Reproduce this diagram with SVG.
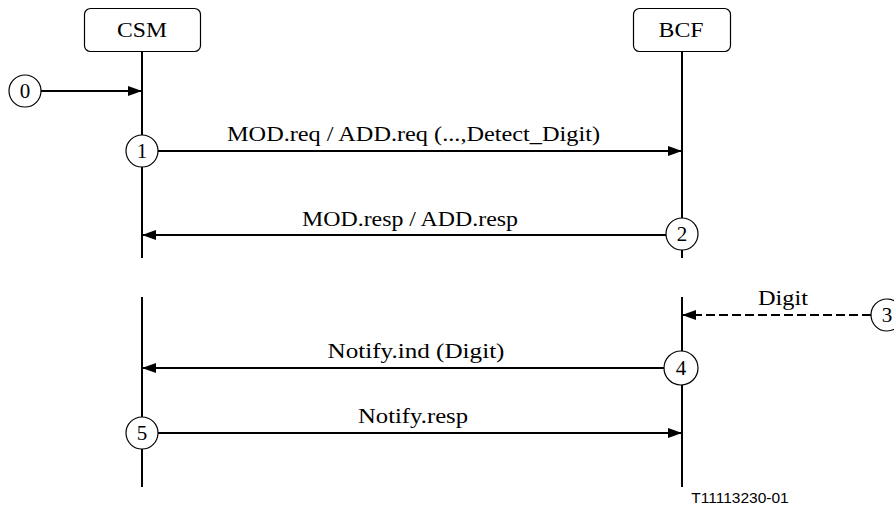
<svg xmlns="http://www.w3.org/2000/svg" width="894" height="507" viewBox="0 0 894 507">
<defs>
<style>
.box{fill:#fff;stroke:#000;stroke-width:1.2}
.life{stroke:#000;stroke-width:2;fill:none}
.msg{stroke:#000;stroke-width:2;fill:none}
.dash{stroke-dasharray:9,4}
.circ{fill:#fff;stroke:#000;stroke-width:1.2}
.t{font-family:'Liberation Serif','Times New Roman',serif;font-size:21px;fill:#000;text-anchor:middle}
.s{font-family:'Liberation Sans',Arial,sans-serif;font-size:15.5px;fill:#000;text-anchor:middle}
</style>
<marker id="ah" viewBox="0 0 14 10" refX="14" refY="5" markerWidth="14" markerHeight="10" markerUnits="userSpaceOnUse" orient="auto">
<path d="M0,0 L14,5 L0,10 Z" fill="#000"/>
</marker>
</defs>
<g id="lifelines">
<line class="life" x1="142" y1="51" x2="142" y2="258"/>
<line class="life" x1="142" y1="297" x2="142" y2="487"/>
<line class="life" x1="682" y1="51" x2="682" y2="258"/>
<line class="life" x1="682" y1="297" x2="682" y2="487"/>
</g>
<g id="connectors">
<line class="msg" x1="41" y1="91" x2="142" y2="91" marker-end="url(#ah)"/>
<line class="msg" x1="158" y1="151" x2="682" y2="151" marker-end="url(#ah)"/>
<line class="msg" x1="666" y1="235" x2="142" y2="235" marker-end="url(#ah)"/>
<line class="msg dash" x1="871" y1="315" x2="682" y2="315" marker-end="url(#ah)"/>
<line class="msg" x1="665" y1="368" x2="142" y2="368" marker-end="url(#ah)"/>
<line class="msg" x1="158" y1="433" x2="682" y2="433" marker-end="url(#ah)"/>
</g>
<g id="CSM">
<rect class="box" x="84.5" y="8.5" width="116" height="43" rx="6"/>
<text class="t" x="142" y="37" textLength="50" lengthAdjust="spacingAndGlyphs">CSM</text>
</g>
<g id="BCF">
<rect class="box" x="633.5" y="8.5" width="97" height="43" rx="6"/>
<text class="t" x="681" y="37" textLength="45" lengthAdjust="spacingAndGlyphs">BCF</text>
</g>
<g id="s0"><circle class="circ" cx="25" cy="91" r="16"/><text class="t" x="25" y="98">0</text></g>
<g id="s1"><circle class="circ" cx="142" cy="151" r="16"/><text class="t" x="142" y="158">1</text></g>
<g id="s2"><circle class="circ" cx="682" cy="234" r="16"/><text class="t" x="682" y="241">2</text></g>
<g id="s3"><circle class="circ" cx="887" cy="315" r="16"/><text class="t" x="887" y="322">3</text></g>
<g id="s4"><circle class="circ" cx="681" cy="368" r="17"/><text class="t" x="681" y="375">4</text></g>
<g id="s5"><circle class="circ" cx="142" cy="433" r="16"/><text class="t" x="142" y="440">5</text></g>
<g id="labels">
<text class="t" x="413.5" y="141" textLength="373" lengthAdjust="spacingAndGlyphs">MOD.req / ADD.req (...,Detect_Digit)</text>
<text class="t" x="410" y="226" textLength="216" lengthAdjust="spacingAndGlyphs">MOD.resp / ADD.resp</text>
<text class="t" x="783" y="305" textLength="50" lengthAdjust="spacingAndGlyphs">Digit</text>
<text class="t" x="416" y="358" textLength="177" lengthAdjust="spacingAndGlyphs">Notify.ind (Digit)</text>
<text class="t" x="413" y="423" textLength="110" lengthAdjust="spacingAndGlyphs">Notify.resp</text>
<text class="s" x="740" y="503">T11113230-01</text>
</g>
</svg>
